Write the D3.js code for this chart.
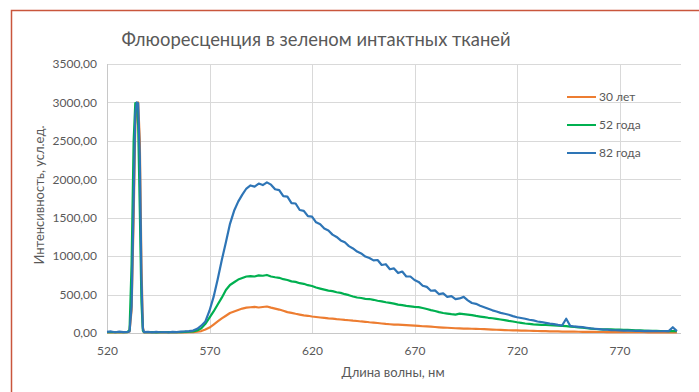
<!DOCTYPE html>
<html>
<head>
<meta charset="utf-8">
<script src="https://cdn.jsdelivr.net/npm/d3@7/dist/d3.min.js"></script>
<style>
  html, body { margin: 0; padding: 0; background: #fff; }
  svg { display: block; }
  text { font-family: Lato, "Open Sans", sans-serif; fill: #595959; }
</style>
</head>
<body>
<svg id="chart" width="699" height="392"></svg>
<script>
// ---- data ----
const chartTitle = "Флюоресценция в зеленом интактных тканей";
const xTitle = "Длина волны, нм";
const yTitle = "Интенсивность, усл.ед.";
const seriesNames = ["30 лет", "52 года", "82 года"];
const xTickValues = [520, 570, 620, 670, 720, 770];
const yTickValues = [0, 500, 1000, 1500, 2000, 2500, 3000, 3500];

const wavelengths = [
  520, 522, 524, 526, 528, 530, 531, 532, 533, 533.8, 534.5, 535.2, 536, 536.8, 537.5, 538,
  540, 542, 544, 546, 548, 550, 552, 554, 556, 558,
  560, 562, 564, 566, 568, 570, 572, 574, 576, 578,
  580, 582, 584, 586, 588, 590, 592, 594, 596, 598,
  600, 602, 604, 606, 608, 610, 612, 614, 616, 618,
  620, 622, 624, 626, 628, 630, 632, 634, 636, 638,
  640, 642, 644, 646, 648, 650, 652, 654, 656, 658,
  660, 662, 664, 666, 668, 670, 672, 674, 676, 678,
  680, 682, 684, 686, 688, 690, 692, 694, 696, 698,
  700, 702, 704, 706, 708, 710, 712, 714, 716, 718,
  720, 722, 724, 726, 728, 730, 732, 734, 736, 738,
  740, 742, 744, 746, 748, 750, 752, 754, 756, 758,
  760, 762, 764, 766, 768, 770, 772, 774, 776, 778,
  780, 782, 784, 786, 788, 790, 792, 794, 796, 798
];

const age30 = [
  8, 10, 8, 10, 8, 10, 20, 300, 1500, 2700, 2990, 3000, 2500, 900, 80, 8,
  8, 10, 7, 9, 8, 10, 8, 9, 10, 9,
  10, 12, 16, 25, 45, 70, 110, 150, 190, 225,
  260, 280, 300, 318, 330, 335, 340, 332, 338, 345,
  330, 318, 305, 290, 272, 262, 250, 240, 230, 224,
  215, 208, 202, 196, 190, 186, 180, 176, 170, 166,
  160, 156, 150, 146, 140, 136, 130, 124, 118, 114,
  110, 108, 105, 102, 99, 96, 92, 88, 85, 82,
  78, 74, 71, 68, 65, 62, 60, 58, 56, 55,
  54, 52, 50, 47, 45, 42, 40, 38, 36, 35,
  33, 32, 30, 29, 27, 26, 25, 24, 22, 21,
  20, 19, 18, 17, 17, 16, 15, 15, 14, 14,
  13, 13, 12, 12, 11, 11, 11, 10, 10, 10,
  10, 10, 9, 9, 9, 9, 9, 8, 8, 8
];

const age52 = [
  10, 12, 10, 12, 10, 12, 40, 900, 2500, 2990, 2990, 2700, 1600, 400, 30, 10,
  10, 12, 8, 11, 10, 12, 10, 13, 12, 14,
  16, 20, 32, 60, 120, 200, 280, 370, 460, 560,
  625, 660, 695, 715, 735, 740, 735, 750, 745, 755,
  735, 725, 718, 700, 690, 672, 665, 648, 640, 622,
  612, 592, 578, 565, 552, 545, 530, 522, 505, 492,
  475, 462, 455, 445, 442, 432, 420, 412, 400, 392,
  382, 370, 362, 352, 346, 340, 336, 325, 312, 298,
  286, 272, 260, 252, 245, 240, 252, 246, 240, 232,
  222, 214, 206, 198, 192, 184, 176, 168, 158, 150,
  140, 132, 124, 118, 113, 110, 106, 104, 101, 98,
  95, 92, 90, 84, 78, 72, 68, 62, 57, 52,
  49, 48, 47, 46, 45, 43, 41, 40, 38, 36,
  33, 31, 29, 28, 27, 26, 26, 25, 25, 24
];

const age82 = [
  15, 20, 10, 18, 12, 15, 20, 350, 1700, 2850, 3000, 2990, 2300, 700, 60, 12,
  14, 8, 15, 10, 13, 9, 14, 12, 18, 20,
  24, 32, 55, 95, 150, 290, 470, 700, 950, 1180,
  1420, 1590, 1710, 1800, 1880, 1920, 1905, 1945, 1925, 1960,
  1930, 1870, 1860, 1780, 1775, 1690, 1685, 1600, 1590, 1520,
  1515, 1440, 1415, 1360, 1335, 1280, 1250, 1205, 1180, 1130,
  1100, 1060, 1035, 995, 975, 945, 950, 885, 895, 830,
  840, 780, 800, 735, 735, 690, 665, 615, 600, 550,
  555, 505, 515, 470, 480, 440, 450, 470, 425, 390,
  380, 355, 335, 315, 295, 280, 262, 250, 238, 220,
  205, 195, 185, 172, 165, 150, 142, 132, 122, 115,
  105, 98, 185, 92, 85, 80, 76, 68, 60, 55,
  50, 45, 44, 38, 36, 34, 32, 30, 29, 27,
  28, 25, 27, 24, 26, 23, 25, 24, 75, 24
];

const seriesColors = ["#ED7D31", "#00B050", "#2E75B6"];

// ---- drawing ----
(function () {
const svg = d3.select("#chart");
svg.append("rect").attr("width", 699).attr("height", 392).attr("fill", "#fff");

// red frame (left and top edges)
svg.append("path")
  .attr("d", "M11.5,392V10.5H699")
  .attr("fill", "none")
  .attr("stroke", "#C9563C")
  .attr("stroke-width", 1.5);

const pLeft = 107, pRight = 681, pTop = 64, pBottom = 333;
const x = d3.scaleLinear().domain([520, 800]).range([pLeft, pRight]);
const y = d3.scaleLinear().domain([0, 3500]).range([pBottom, pTop]);

// gridlines
const grid = svg.append("g");
grid.selectAll("line.h").data(yTickValues.filter(d => d > 0)).join("line")
  .attr("x1", pLeft).attr("x2", pRight)
  .attr("y1", d => Math.round(y(d)) + 0.5).attr("y2", d => Math.round(y(d)) + 0.5)
  .attr("stroke", "#D9D9D9").attr("stroke-width", 1);
grid.selectAll("line.v").data(xTickValues.filter(d => d > 520)).join("line")
  .attr("x1", d => Math.round(x(d)) + 0.5).attr("x2", d => Math.round(x(d)) + 0.5)
  .attr("y1", pTop).attr("y2", pBottom)
  .attr("stroke", "#D9D9D9").attr("stroke-width", 1);

// axis lines
svg.append("line").attr("x1", pLeft + 0.5).attr("x2", pLeft + 0.5).attr("y1", pTop).attr("y2", pBottom)
  .attr("stroke", "#C8C8C8");
svg.append("line").attr("x1", pLeft).attr("x2", pRight).attr("y1", pBottom + 0.5).attr("y2", pBottom + 0.5)
  .attr("stroke", "#C8C8C8");

const fmt = d => d3.format(".2f")(d).replace(".", ",");
const yAxis = svg.append("g").attr("transform", `translate(${pLeft},0)`)
  .call(d3.axisLeft(y).tickValues(yTickValues).tickFormat(fmt).tickSize(0).tickPadding(10));
yAxis.select(".domain").remove();
yAxis.selectAll("text").style("font-family", "Lato, 'Open Sans', sans-serif")
  .style("font-size", "12px").attr("fill", "#595959");

const xAxis = svg.append("g").attr("transform", `translate(0,${pBottom})`)
  .call(d3.axisBottom(x).tickValues(xTickValues).tickFormat(d3.format("d")).tickSize(0).tickPadding(13));
xAxis.select(".domain").remove();
xAxis.selectAll("text").style("font-family", "Lato, 'Open Sans', sans-serif")
  .style("font-size", "12px").attr("fill", "#595959");

// series
const allSeries = [age30, age52, age82];
const line = d3.line().x((d, i) => x(wavelengths[i])).y(d => y(d));
allSeries.forEach((vals, k) => {
  svg.append("path").datum(vals)
    .attr("d", line)
    .attr("fill", "none")
    .attr("stroke", seriesColors[k])
    .attr("stroke-width", 2.2)
    .attr("stroke-linejoin", "round");
});

// titles
svg.append("text").attr("x", 316).attr("y", 46).attr("text-anchor", "middle")
  .style("font-size", "18.4px").text(chartTitle);
svg.append("text").attr("x", 393).attr("y", 377).attr("text-anchor", "middle")
  .style("font-size", "13px").text(xTitle);
svg.append("text").attr("transform", "translate(44,195) rotate(-90)").attr("text-anchor", "middle")
  .style("font-size", "13px").text(yTitle);

// legend
const legendY = [97, 125, 153];
seriesNames.forEach((name, k) => {
  svg.append("line").attr("x1", 567).attr("x2", 596)
    .attr("y1", legendY[k]).attr("y2", legendY[k])
    .attr("stroke", seriesColors[k]).attr("stroke-width", 2);
  svg.append("text").attr("x", 599).attr("y", legendY[k] + 4)
    .style("font-size", "12px").text(name);
});
})();
</script>
</body>
</html>
